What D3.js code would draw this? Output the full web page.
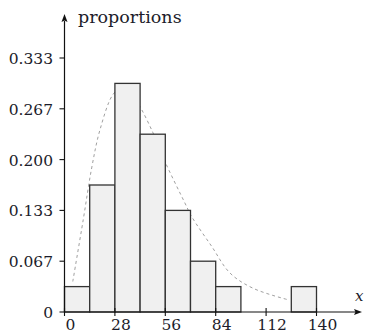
<!DOCTYPE html>
<html>
<head>
<meta charset="utf-8">
<script src="https://cdn.jsdelivr.net/npm/d3@7"></script>
<style>
  html, body { margin: 0; padding: 0; background: #fff; }
  svg { display: block; }
  text { font-family: "DejaVu Serif", serif; fill: #1c1c2a; }
</style>
</head>
<body>
<svg id="chart" width="366" height="333"></svg>
<script>
// histogram: class edges and counts (n = 30)
const binEdges = [0, 14, 28, 42, 56, 70, 84, 98, 112, 126, 140];
const binCounts = [1, 5, 9, 7, 4, 2, 1, 0, 0, 1];
const total = 30;

// fitted density (dashed)
const curveX = [4.6, 10.4, 15.1, 19.7, 26.8, 31.5, 35.5, 40.8, 49.2, 55.3, 66.9, 70.7, 81.8, 92.0, 104.9, 124.3];
const curveY = [0.040, 0.121, 0.189, 0.239, 0.285, 0.294, 0.290, 0.274, 0.235, 0.200, 0.143, 0.125, 0.086, 0.051, 0.031, 0.016];

const xTicks = [0, 28, 56, 84, 112, 140];
const yTicks = [0, 1 / 15, 2 / 15, 3 / 15, 4 / 15, 5 / 15];
const yTickLabels = ["0", "0.067", "0.133", "0.200", "0.267", "0.333"];

const svg = d3.select("#chart");

const x = d3.scaleLinear().domain([0, 140]).range([64.5, 316.5]);
const y = d3.scaleLinear().domain([0, 1 / 3]).range([312, 58]);

const bins = binCounts.map((c, i) => ({ x0: binEdges[i], x1: binEdges[i + 1], p: c / total }));

// density curve sits under the bars
const line = d3.line()
    .x((d, i) => x(curveX[i]))
    .y((d, i) => y(curveY[i]))
    .curve(d3.curveCatmullRom);

svg.append("path")
    .attr("d", line(curveX))
    .attr("fill", "none")
    .attr("stroke", "#a0a0a0")
    .attr("stroke-width", 1)
    .attr("stroke-dasharray", "3,3");

svg.append("g")
    .selectAll("rect")
    .data(bins.filter(d => d.p > 0))
    .join("rect")
    .attr("x", d => x(d.x0))
    .attr("y", d => y(d.p))
    .attr("width", d => x(d.x1) - x(d.x0))
    .attr("height", d => y(0) - y(d.p))
    .attr("fill", "#f0f0f0")
    .attr("stroke", "#333")
    .attr("stroke-width", 1.3);

// axes with arrow heads
const axisColor = "#111";
svg.append("line")
    .attr("x1", x(0)).attr("x2", 356)
    .attr("y1", y(0)).attr("y2", y(0))
    .attr("stroke", axisColor).attr("stroke-width", 1.2);
svg.append("path")
    .attr("d", `M362,${y(0)} L354,${y(0) - 3} L355.5,${y(0)} L354,${y(0) + 3} Z`)
    .attr("fill", axisColor);

svg.append("line")
    .attr("x1", x(0)).attr("x2", x(0))
    .attr("y1", y(0)).attr("y2", 21)
    .attr("stroke", axisColor).attr("stroke-width", 1.2);
svg.append("path")
    .attr("d", `M${x(0)},14 L${x(0) - 3},22 L${x(0)},20.5 L${x(0) + 3},22 Z`)
    .attr("fill", axisColor);

// x ticks
const xt = svg.append("g").selectAll("g").data(xTicks).join("g");
xt.append("line")
    .attr("x1", d => x(d)).attr("x2", d => x(d))
    .attr("y1", y(0) - 4).attr("y2", y(0) + 4)
    .attr("stroke", axisColor).attr("stroke-width", 1.1);
xt.append("text")
    .attr("x", d => x(d) + 6)
    .attr("y", 330)
    .attr("text-anchor", "middle")
    .attr("font-size", 15.5)
    .text(d => d);

// y ticks
const yt = svg.append("g").selectAll("g").data(yTicks).join("g");
yt.append("line")
    .attr("x1", x(0) - 5).attr("x2", x(0))
    .attr("y1", d => y(d)).attr("y2", d => y(d))
    .attr("stroke", axisColor).attr("stroke-width", 1.1);
yt.append("text")
    .attr("x", 53)
    .attr("y", d => y(d) + 6)
    .attr("text-anchor", "end")
    .attr("font-size", 15.5)
    .text((d, i) => yTickLabels[i]);

svg.append("text")
    .attr("x", 78)
    .attr("y", 23)
    .attr("font-size", 17.5)
    .text("proportions");

svg.append("text")
    .attr("x", 355)
    .attr("y", 301)
    .attr("font-size", 15)
    .attr("font-style", "italic")
    .text("x");
</script>
</body>
</html>
